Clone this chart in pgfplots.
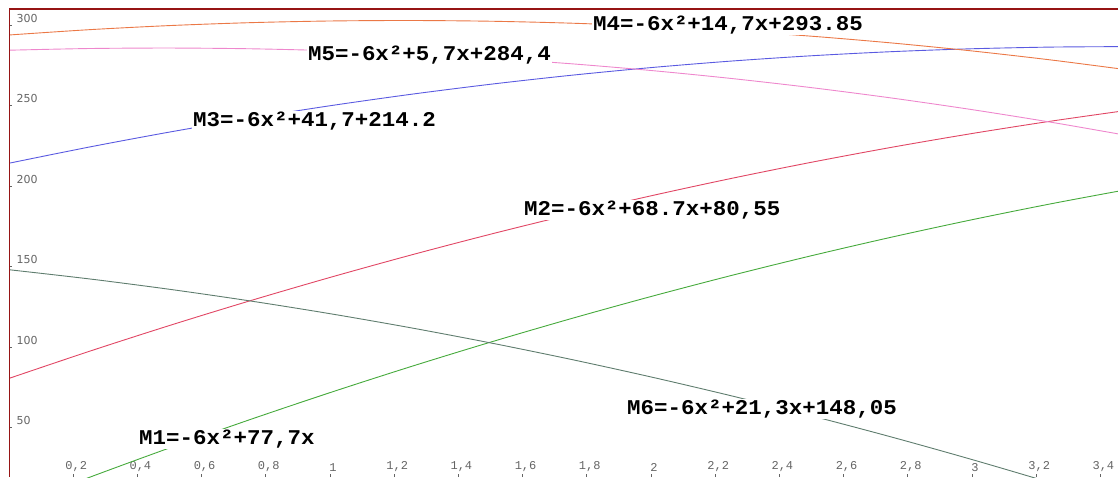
\documentclass[border=0pt]{standalone}
\usepackage{pgfplots}
\pgfplotsset{compat=1.18}
\usepackage{fontspec}
\newfontfamily\monofont{Liberation Mono}
\newfontfamily\annfont[FakeStretch=1.07]{Liberation Mono}
\newfontfamily\ylabfont{DejaVu Sans}
\definecolor{axred}{RGB}{150,20,20}
\definecolor{cM1}{RGB}{70,170,60}
\definecolor{cM2}{RGB}{225,70,100}
\definecolor{cM3}{RGB}{90,90,225}
\definecolor{cM4}{RGB}{235,120,70}
\definecolor{cM5}{RGB}{238,135,205}
\definecolor{cM6}{RGB}{95,125,110}
\definecolor{tickgray}{RGB}{100,100,100}
\begin{document}
\begin{tikzpicture}
\begin{axis}[
  at={(9pt,0pt)}, anchor=south west,
  scale only axis, width=1109pt, height=468pt,
  xmin=0, xmax=3.455, ymin=19.3, ymax=310,
  axis line style={draw=none},
  tick align=inside,
  xtick pos=lower, ytick pos=left,
  major tick length=3pt,
  tick style={draw=tickgray, line width=0.6pt},
  xtick={0.2,0.4,0.6,0.8,1,1.2,1.4,1.6,1.8,2,2.2,2.4,2.6,2.8,3,3.2,3.4},
  xticklabels={{0,2},{0,4},{0,6},{0,8},1,{1,2},{1,4},{1,6},{1,8},2,{2,2},{2,4},{2,6},{2,8},3,{3,2},{3,4}},
  ytick={50,100,150,200,250,300},
  yticklabels={50,100,150,200,250,300},
  x tick label style={anchor=south, yshift=1.5pt, xshift=3pt, font=\monofont\fontsize{12}{12}\selectfont, text=tickgray},
  y tick label style={anchor=south west, xshift=4pt, yshift=-1pt, font=\ylabfont\fontsize{11}{11}\selectfont, text=tickgray},
  every axis plot/.append style={line width=0.9pt, smooth, no markers},
]
% M1
\addplot[cM1] coordinates {(0,0) (0.25,19.05) (0.5,37.35) (0.75,54.9) (1,71.7) (1.25,87.75) (1.5,103.05) (1.75,117.6) (2,131.4) (2.25,144.45) (2.5,156.75) (2.75,168.3) (3,179.1) (3.25,189.15) (3.5,198.45)};
% M2
\addplot[cM2] coordinates {(0,80.55) (0.25,97.35) (0.5,113.4) (0.75,128.7) (1,143.25) (1.25,157.05) (1.5,170.1) (1.75,182.4) (2,193.95) (2.25,204.75) (2.5,214.8) (2.75,224.1) (3,232.65) (3.25,240.45) (3.5,247.5)};
% M3
\addplot[cM3] coordinates {(0,214.2) (0.25,224.25) (0.5,233.55) (0.75,242.1) (1,249.9) (1.25,256.95) (1.5,263.25) (1.75,268.8) (2,273.6) (2.25,277.65) (2.5,280.95) (2.75,283.5) (3,285.3) (3.25,286.35) (3.5,286.65)};
% M4
\addplot[cM4] coordinates {(0,293.85) (0.25,297.15) (0.5,299.7) (0.75,301.5) (1,302.55) (1.25,302.85) (1.5,302.4) (1.75,301.2) (2,299.25) (2.25,296.55) (2.5,293.1) (2.75,288.9) (3,283.95) (3.25,278.25) (3.5,271.8)};
% M5
\addplot[cM5] coordinates {(0,284.4) (0.25,285.45) (0.5,285.75) (0.75,285.3) (1,284.1) (1.25,282.15) (1.5,279.45) (1.75,276) (2,271.8) (2.25,266.85) (2.5,261.15) (2.75,254.7) (3,247.5) (3.25,239.55) (3.5,230.85)};
% M6
\addplot[cM6] coordinates {(0,148.05) (0.25,142.35) (0.5,135.9) (0.75,128.7) (1,120.75) (1.25,112.05) (1.5,102.6) (1.75,92.4) (2,81.45) (2.25,69.75) (2.5,57.3) (2.75,44.1) (3,30.15) (3.25,15.45) (3.5,0)};
\begin{scope}[every node/.style={anchor=west, fill=white, inner sep=1pt, font=\annfont\bfseries\fontsize{21}{22}\selectfont}]
\node at (axis cs:1.816,300) {M4=-6x²+14,7x+293.85};
\node at (axis cs:0.928,281.4) {M5=-6x²+5,7x+284,4};
\node at (axis cs:0.570,240.4) {M3=-6x²+41,7+214.2};
\node at (axis cs:1.601,185.1) {M2=-6x²+68.7x+80,55};
\node at (axis cs:1.922,61.5) {M6=-6x²+21,3x+148,05};
\node at (axis cs:0.402,42.9) {M1=-6x²+77,7x};
\end{scope}
\draw[axred, line width=1.2pt] (rel axis cs:0,0) -- (rel axis cs:0,1) -- (rel axis cs:1,1);
\end{axis}
\pgfresetboundingbox
\path (0,0) rectangle (1118pt,477pt);
\end{tikzpicture}
\end{document}
